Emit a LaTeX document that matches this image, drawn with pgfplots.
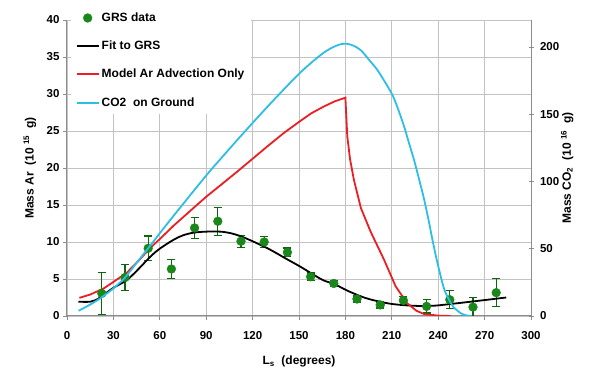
\documentclass[border=0pt]{standalone}
\usepackage{fontspec}
\setmainfont{Liberation Sans}
\usepackage{pgfplots}
\pgfplotsset{compat=1.18}
\definecolor{grsgreen}{RGB}{25,135,25}
\definecolor{errgreen}{RGB}{15,100,15}
\definecolor{modelred}{RGB}{235,30,35}
\definecolor{co2cyan}{RGB}{45,190,230}
\definecolor{gridgray}{RGB}{195,195,195}
\definecolor{axisgray}{RGB}{140,140,140}
\pgfplotsset{
  lineleg/.style={legend image code/.code={\draw[##1, line width=2pt] (0pt,0pt) -- (22pt,0pt);}},
  markleg/.style={legend image code/.code={\draw[mark repeat=2, mark phase=2, ##1] plot coordinates {(0pt,0pt) (11pt,0pt) (22pt,0pt)};}},
}
\newcommand{\tickfont}{\bfseries\fontsize{11.5}{13}\selectfont}
\newcommand{\labfont}{\bfseries\fontsize{12}{14}\selectfont}
\begin{document}
\begin{tikzpicture}
\begin{axis}[
  name=main,
  scale only axis, width=464pt, height=296pt,
  xmin=0, xmax=300, ymin=0, ymax=40,
  xtick={0,30,...,300}, ytick={0,5,...,40},
  axis x line*=bottom, axis y line*=left,
  axis line style={axisgray, line width=1pt, -},
  x axis line style={-}, y axis line style={-},
  grid=major, major grid style={gridgray, line width=0.8pt},
  tick align=outside, major tick length=4pt,
  tick style={axisgray, line width=0.8pt},
  xticklabel={\tickfont\textbf{\pgfmathprintnumber[assume math mode=true]{\tick}}},
  yticklabel={\tickfont\textbf{\pgfmathprintnumber[assume math mode=true]{\tick}}},
  xticklabel style={yshift=-8pt},
  /pgf/number format/assume math mode=true,
  xlabel={L\textsubscript{s}\ \ (degrees)},
  ylabel={Mass Ar\ \ (10\ \textsuperscript{15}\ \ g)},
  every axis x label/.style={at={(axis description cs:0.5,-0.155)}, anchor=center, font=\labfont},
  every axis y label/.style={at={(axis description cs:-0.08,0.5)}, rotate=90, anchor=center, font=\labfont},
  legend style={at={(axis description cs:0.0075,1.045)}, anchor=north west,
    fill=white, draw=none, font=\bfseries\fontsize{12}{14}\selectfont,
    row sep=14pt, inner xsep=5pt, inner ysep=4pt},
  legend cell align=left,
]
\addplot[only marks, mark=*, mark size=4.4pt, color=grsgreen,
  mark options={fill=grsgreen, draw=grsgreen}, markleg,
  error bars/.cd, y dir=both, y explicit,
  error bar style={errgreen, line width=1.3pt},
  error mark options={rotate=90, mark size=4pt, errgreen, line width=1.3pt}]
  table[x=x, y=y, y error=e] {
x y e
22.5 3.05 2.85
37.5 5.2 1.8
52.5 9.15 1.65
67.5 6.35 1.3
82.5 11.9 1.4
97.5 12.8 1.9
112.5 10.1 0.8
127.5 10.0 0.75
142.5 8.6 0.6
157.5 5.3 0.5
172.5 4.4 0.4
187.5 2.3 0.4
202.5 1.5 0.4
217.5 2.1 0.5
232.5 1.3 0.9
247.5 2.2 1.2
262.5 1.2 1.3
277.5 3.15 1.9
};
\addlegendentry{GRS data}
\addplot[black, line width=1.8pt, smooth, no marks, lineleg] coordinates {
(7.3,1.93) (15,1.93) (20,2.3) (23.5,2.84) (30,3.8) (38.7,4.86) (46,6.3) (53.8,8.0)
(60,9.1) (68.9,10.3) (75,10.9) (81.8,11.26) (90,11.4) (99,11.4) (105.6,11.2)
(112,10.8) (120,10.1) (131,9.0) (142,7.7) (151,6.65) (160,5.5) (166,4.8)
(173,4.3) (181,3.45) (190,2.65) (196,2.25) (204,1.85) (211,1.6) (220,1.43)
(229,1.35) (238,1.4) (248,1.62) (261,1.93) (272,2.2) (284,2.5)
};
\addlegendentry{Fit to GRS}
\addplot[modelred, line width=1.8pt, no marks, lineleg] coordinates {
(8,2.45) (15,2.9) (23.5,3.7) (30,4.6) (38.7,5.85) (46,7.4) (53.8,9.2) (60,10.4)
(68.9,12.2) (73.2,13.0) (81.8,14.6) (90.5,16.2) (100,17.8) (110,19.5) (120.3,21.3)
(130,23.0) (140,24.7) (150.5,26.3) (158,27.4) (166,28.3) (173,29.0) (180,29.5)
(181.2,24.3) (183,21.2) (185.5,18.4) (190,14.6) (196.3,11.4) (205,7.6) (212.5,4.0)
(220,1.7) (226,0.7) (231,0.25) (240,0.05) (248,0)
};
\addlegendentry{Model Ar Advection Only}
\addlegendimage{co2cyan, line width=1.8pt, lineleg}
\addlegendentry{CO2\ \ on Ground}
\end{axis}
\begin{axis}[
  scale only axis, width=464pt, height=296pt,
  xmin=0, xmax=300, ymin=0, ymax=220,
  axis x line=none, axis y line*=right,
  axis line style={axisgray, line width=1pt, -},
  y axis line style={-},
  ytick={0,50,...,200},
  tick align=center, major tick length=5pt,
  tick style={axisgray, line width=0.8pt},
  yticklabel={\tickfont\textbf{\pgfmathprintnumber[assume math mode=true]{\tick}}},
  yticklabel style={xshift=3pt},
  /pgf/number format/assume math mode=true,
  ylabel={Mass CO\textsubscript{2}\ \ (10\ \textsuperscript{16}\ \ g)},
  every axis y label/.style={at={(axis description cs:1.078,0.5)}, rotate=90, anchor=center, font=\labfont},
]
\addplot[co2cyan, line width=1.8pt, smooth, no marks] coordinates {
(7.5,3.9) (15,8.5) (21.4,13.1) (30,20.5) (37.6,28.7) (45,39.5) (53.3,51.5) (61,63)
(69,74.6) (77,86) (85,97.4) (93,108.5) (101,119) (110,130.7) (120,143.5) (130,156)
(140,168.2) (150,180) (158,188.3) (166,195.7) (172,199.8) (177,202) (181,202.3)
(185,201) (190,197.5) (196.3,189) (200.7,182.8) (205,175) (210.4,164.3)
(214,154) (218,140.7) (221,129) (224.4,115.9) (228,100) (231,86.2) (234,70)
(236.3,56.5) (239,42) (241.7,29.2) (244,19.5) (247.1,11.9) (250,6.5) (254.7,2)
(258,0.5) (261.2,0)
};
\end{axis}
\path (main.south west) ++(-67pt,-57pt) coordinate (bbA);
\path (main.north east) ++(72pt,20pt) coordinate (bbB);
\path (bbA) rectangle (bbB);
\end{tikzpicture}
\end{document}
